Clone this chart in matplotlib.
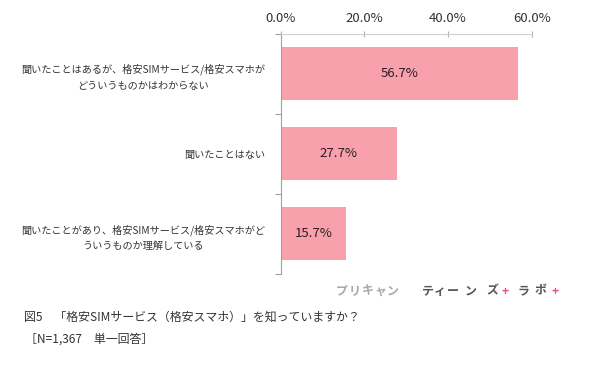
import matplotlib
matplotlib.use("Agg")
import matplotlib.pyplot as plt
from matplotlib.ticker import FixedLocator

plt.rcParams['font.family'] = ['Noto Sans CJK JP', 'DejaVu Sans']

categories = [
    "聞いたことはあるが、格安SIMサービス/格安スマホが\nどういうものかはわからない",
    "聞いたことはない",
    "聞いたことがあり、格安SIMサービス/格安スマホがど\nういうものか理解している",
]
values = [56.7, 27.7, 15.7]
xticks = [0, 20, 40, 60]
xtick_labels = ["0.0%", "20.0%", "40.0%", "60.0%"]
caption = "図5　「格安SIMサービス（格安スマホ）」を知っていますか？"
note = "［N=1,367　単一回答］"

W, H = 590, 377
fig = plt.figure(figsize=(W / 100, H / 100), dpi=100)
ax = fig.add_axes([280.7 / W, 1 - 274 / H, 251 / W, 240.5 / H])

ypos = list(range(len(categories)))
ax.barh(ypos, values, height=0.66, color="#F8A1AC", edgecolor="none")
ax.set_ylim(len(categories) - 0.5, -0.5)
ax.set_xlim(0, 60)

for y, v in zip(ypos, values):
    ax.text(v / 2, y, f"{v:.1f}%", ha="center", va="center",
            fontsize=9.5, color="#2b1d24")

ax.xaxis.tick_top()
ax.set_xticks(xticks)
ax.set_xticklabels(xtick_labels, fontsize=9.5, color="#333333")
ax.tick_params(axis="x", direction="inout", length=4, width=0.8,
               color="#b0b0b0", pad=4)

ax.set_yticks(ypos)
ax.set_yticklabels(categories, fontsize=7.3, color="#333333", linespacing=1.7)
for lbl in ax.get_yticklabels():
    lbl.set_multialignment("center")
ax.tick_params(axis="y", which="major", length=0, pad=11)
ax.yaxis.set_minor_locator(FixedLocator([-0.5 + i for i in range(len(categories) + 1)]))
ax.tick_params(axis="y", which="minor", length=4, width=0.8, color="#a0a0a0",
               direction="out")

for s in ["right", "bottom"]:
    ax.spines[s].set_visible(False)
ax.spines["top"].set_color("#d0d0d0")
ax.spines["top"].set_linewidth(0.8)
ax.spines["left"].set_color("#a0a0a0")
ax.spines["left"].set_linewidth(0.8)

# logo (character centres in pixels)
logo = [("プ", 342, "#a8a8a8"), ("リ", 354.5, "#a8a8a8"),
        ("キ", 367.5, "#a8a8a8"), ("ャ", 380, "#a8a8a8"),
        ("ン", 393, "#a8a8a8"),
        ("テ", 428, "#555555"), ("ィ", 440, "#555555"),
        ("ー", 453, "#555555"), ("ン", 471, "#555555"),
        ("ズ", 492, "#555555"), ("+", 505, "#e8507a"),
        ("ラ", 523, "#555555"), ("ボ", 540, "#555555"),
        ("+", 555, "#e8507a")]
for ch, x, c in logo:
    fig.text(x / W, 1 - 291 / H, ch, ha="center", va="center", fontsize=8.6,
             color=c, fontweight="bold")

fig.text(24 / W, 1 - 317 / H, caption, ha="left", va="center",
         fontsize=8.6, color="#333333")
fig.text(25 / W, 1 - 339 / H, note, ha="left", va="center",
         fontsize=8.6, color="#333333")

fig.savefig("out.png", dpi=100, facecolor="white")
